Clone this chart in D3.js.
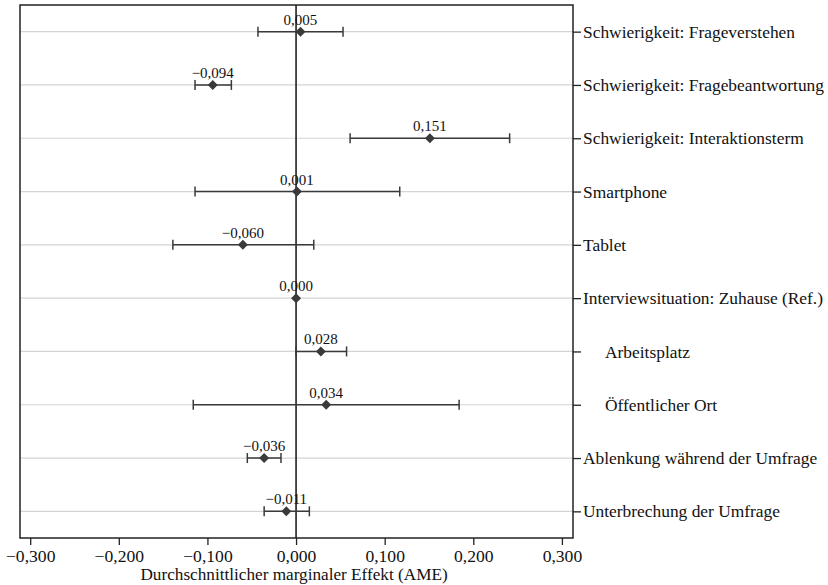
<!DOCTYPE html>
<html>
<head>
<meta charset="utf-8">
<script src="https://cdn.jsdelivr.net/npm/d3@7"></script>
<style>
  html, body { margin: 0; padding: 0; background: #fff; }
  svg { display: block; }
  text { font-family: "Liberation Serif", "DejaVu Serif", serif; fill: #111; }
</style>
</head>
<body>
<svg id="chart" width="828" height="585"></svg>
<script>
// Average marginal effects with 95% confidence intervals
const labels = [
  "Schwierigkeit: Frageverstehen",
  "Schwierigkeit: Fragebeantwortung",
  "Schwierigkeit: Interaktionsterm",
  "Smartphone",
  "Tablet",
  "Interviewsituation: Zuhause (Ref.)",
  "Arbeitsplatz",
  "Öffentlicher Ort",
  "Ablenkung während der Umfrage",
  "Unterbrechung der Umfrage"
];
const indented = [false, false, false, false, false, false, true, true, false, false];
const ame   = [0.005, -0.094, 0.151, 0.001, -0.060, 0.000, 0.028, 0.034, -0.036, -0.011];
const lower = [-0.043, -0.114, 0.061, -0.114, -0.139, 0.000, 0.000, -0.116, -0.055, -0.036];
const upper = [0.053, -0.073, 0.241, 0.117, 0.020, 0.000, 0.057, 0.184, -0.017, 0.015];
const xTicks = [-0.3, -0.2, -0.1, 0, 0.1, 0.2, 0.3];
const xTitle = "Durchschnittlicher marginaler Effekt (AME)";

const rows = labels.map((l, i) => ({ label: l, indent: indented[i], est: ame[i], lo: lower[i], hi: upper[i] }));

const svg = d3.select("#chart");
const plot = { left: 20, top: 5, right: 573, bottom: 538 };
const ink = "#3a3a3a";
const serif = '"Liberation Serif", "Times New Roman", serif';

const x = d3.scaleLinear().domain([-0.3115, 0.3125]).range([plot.left, plot.right]);
const y = d3.scalePoint().domain(labels).range([plot.top, plot.bottom]).padding(0.5);

const fmt = v => d3.format(".3f")(v).replace(".", ",").replace("-", "\u2212");

// horizontal reference lines per row
svg.append("g").selectAll("line").data(rows).join("line")
  .attr("x1", plot.left).attr("x2", plot.right)
  .attr("y1", d => y(d.label)).attr("y2", d => y(d.label))
  .attr("stroke", "#d4d4d4").attr("stroke-width", 1.2);

// zero line
svg.append("line")
  .attr("x1", x(0)).attr("x2", x(0))
  .attr("y1", plot.top).attr("y2", plot.bottom)
  .attr("stroke", "#111").attr("stroke-width", 1.5);

// confidence intervals with caps
const ci = svg.append("g").attr("stroke", ink).attr("stroke-width", 1.5);
rows.filter(d => d.hi > d.lo).forEach(d => {
  const yy = y(d.label);
  ci.append("line").attr("x1", x(d.lo)).attr("x2", x(d.hi)).attr("y1", yy).attr("y2", yy);
  [d.lo, d.hi].forEach(v => ci.append("line")
    .attr("x1", x(v)).attr("x2", x(v)).attr("y1", yy - 5).attr("y2", yy + 5));
});

// point estimates (diamonds)
svg.append("g").selectAll("path").data(rows).join("path")
  .attr("transform", d => `translate(${x(d.est)},${y(d.label)})`)
  .attr("d", "M0,-5L5,0L0,5L-5,0Z")
  .attr("fill", ink);

// value labels
svg.append("g").selectAll("text").data(rows).join("text")
  .attr("x", d => x(d.est)).attr("y", d => y(d.label) - 7)
  .attr("text-anchor", "middle")
  .attr("font-size", 15)
  .text(d => fmt(d.est));

// frame
svg.append("rect")
  .attr("x", plot.left).attr("y", plot.top)
  .attr("width", plot.right - plot.left).attr("height", plot.bottom - plot.top)
  .attr("fill", "none").attr("stroke", "#222").attr("stroke-width", 1.5);

// bottom axis
const xAxis = svg.append("g")
  .attr("transform", `translate(0,${plot.bottom})`)
  .call(d3.axisBottom(x).tickValues(xTicks).tickSize(7).tickFormat(fmt));
xAxis.select(".domain").remove();
xAxis.selectAll(".tick line").attr("stroke", "#222").attr("stroke-width", 1.3);
xAxis.selectAll(".tick text")
  .attr("y", 24).attr("dy", null)
  .attr("font-size", 17.6)
  .style("font-family", serif).attr("fill", "#111");

svg.append("text")
  .attr("x", x(0) - 2).attr("y", 580)
  .attr("text-anchor", "middle").attr("font-size", 17.2)
  .text(xTitle);

// right axis with row labels
const yAxis = svg.append("g")
  .attr("transform", `translate(${plot.right},0)`)
  .call(d3.axisRight(y).tickSize(8));
yAxis.select(".domain").remove();
yAxis.selectAll(".tick line").attr("stroke", "#222").attr("stroke-width", 1.3);
yAxis.selectAll(".tick text")
  .attr("font-size", 17.4)
  .style("font-family", serif).attr("fill", "#111")
  .attr("x", (d, i) => 10 + (indented[i] ? 22 : 0));
</script>
</body>
</html>
